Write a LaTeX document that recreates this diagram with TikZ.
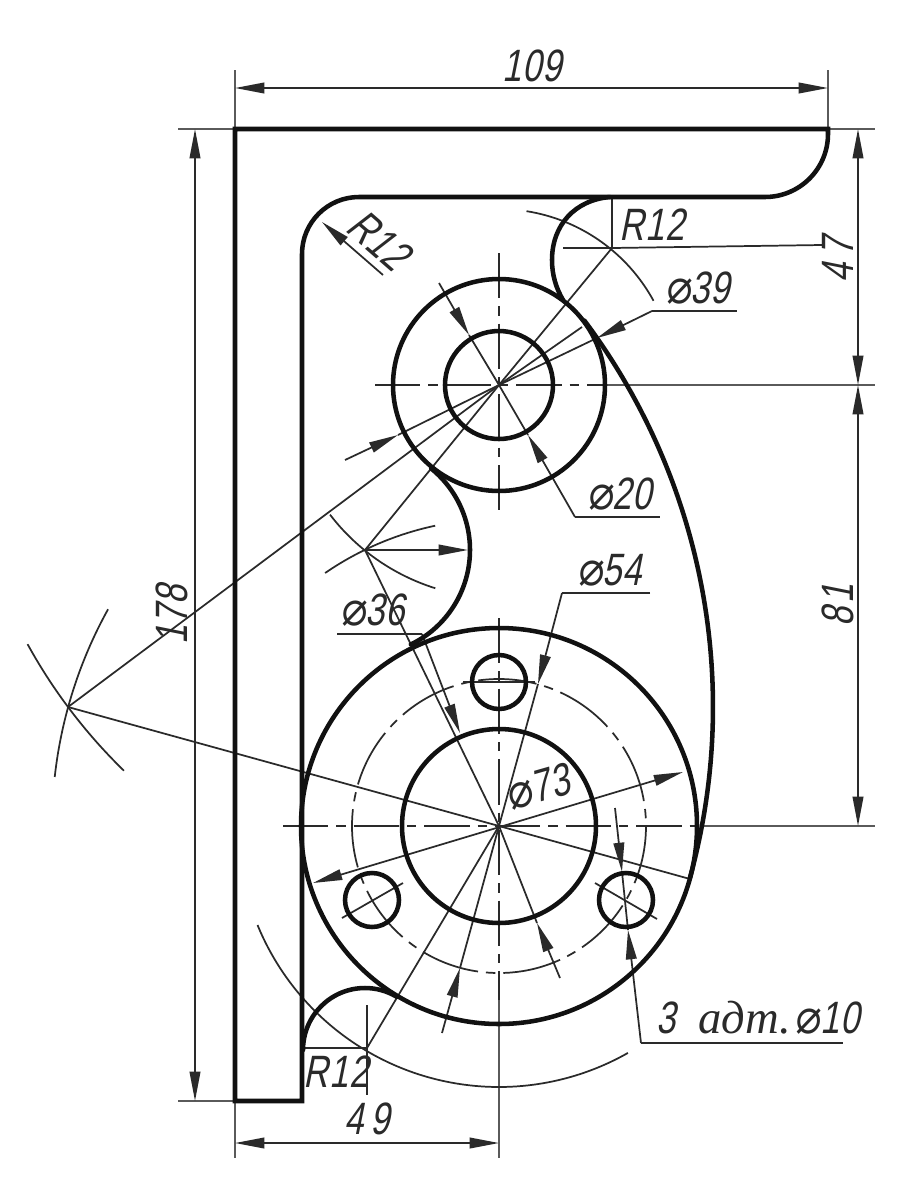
\documentclass[tikz,border=0pt]{standalone}
\usepackage{fontspec}
\usetikzlibrary{arrows.meta}
\newfontfamily\gostfont[FakeStretch=0.76,FakeSlant=0.2,LetterSpace=2]{Liberation Sans}
\newfontfamily\gostdia[FakeStretch=0.9,FakeSlant=0.05]{DejaVu Sans}
\newfontfamily\gostcyr{Liberation Serif}
\newcommand{\dia}{{\gostdia\fontsize{36}{36}\selectfont ⌀}\kern-1pt}
\definecolor{inkc}{HTML}{111111}
\definecolor{thinc}{HTML}{2A2A2A}
\definecolor{extc}{HTML}{5A5A5A}
\tikzset{
  thickline/.style={line width=3.4pt,draw=inkc,line cap=round,line join=miter},
  thinline/.style={line width=1.3pt,draw=thinc},
  extline/.style={line width=1.3pt,draw=extc},
  centerline/.style={line width=1.3pt,draw=thinc,dash pattern=on 34pt off 6pt on 7pt off 6pt},
  dimarrow/.style={line width=1.3pt,draw=thinc,>={Stealth[length=22pt,width=8pt,inset=0pt]}},
  dimtext/.style={font=\gostfont\fontsize{34}{34}\selectfont,text=thinc,inner sep=0pt}
}
\begin{document}
\begin{tikzpicture}[x=0.75pt,y=0.75pt,yscale=-1]
\useasboundingbox (0,0) rectangle (909,1200);
\fill[white] (0,0) rectangle (909,1200);
% key points
\coordinate (C1) at (499,826);
\coordinate (C2) at (499,385);
\coordinate (Ra) at (68,707);
\coordinate (Rb) at (365,550);
\coordinate (Rc) at (612,248);
\coordinate (Rd) at (367,1048);
\coordinate (TL) at (235,129);
\coordinate (TR) at (828,129);
\coordinate (BL) at (235,1101);
\coordinate (H1) at (499,682);
\coordinate (H2) at (372,900);
\coordinate (H3) at (626,900);
% extension lines
\draw[extline] (235,70) -- (TL);
\draw[extline] (828,70) -- (TR);
\draw[extline] (178,129) -- (TL);
\draw[extline] (TR) -- (875,129);
\draw[extline] (178,1101) -- (BL);
\draw[extline] (BL) -- (235,1158);
\draw[extline] (605,385) -- (875,385);
\draw[extline] (700,826) -- (875,826);
\draw[thinline] (563,248) -- (Rc) -- (822,245);
\draw[thinline] (Rc) -- (612,197);
% dimension lines
\draw[dimarrow,<->] (235,88) -- (828,88);
\draw[dimarrow,<->] (195,129) -- (195,1101);
\draw[dimarrow,<->] (858,129) -- (858,385);
\draw[dimarrow,<->] (858,385) -- (858,826);
\draw[dimarrow,<->] (235,1143) -- (499,1143);
% centre lines
\draw[centerline] (375,385) -- (605,385);
\draw[centerline] (499,253) -- (499,518);
\draw[centerline] (283,826) -- (700,826);
\draw[centerline] (499,618) -- (499,1000);
\draw[extline] (499,1000) -- (499,1158);
\draw[thinline,dash pattern=on 44pt off 6pt on 7pt off 6pt] (C1) circle[radius=147];
\draw[thinline] (463,682) -- (535,682);
\draw[thinline] (342,918) -- (403,883);
\draw[thinline] (595,883) -- (657,919);
% construction arcs
\draw[thinline] (C2) ++(151.2:538) arc[start angle=151.2,end angle=134.2,radius=538];
\draw[thinline] (C1) ++(-151:447) arc[start angle=-151,end angle=-173.7,radius=447];
\draw[thinline] (C2) ++(107.4:213) arc[start angle=107.4,end angle=142.5,radius=213];
\draw[thinline] (C1) ++(-102:307) arc[start angle=-102,end angle=-124.5,radius=307];
\draw[thinline] (C2) ++(-81:176) arc[start angle=-81,end angle=-28.6,radius=176];
\draw[thinline] (C1) ++(157.7:261) arc[start angle=157.7,end angle=60.4,radius=261];
% radial construction lines
\draw[thinline] (Ra) -- (C2) -- (582,327);
\draw[thinline] (Ra) -- (C1) -- (690,879);
\draw[thinline] (Rb) -- (C2) -- (Rc);
\draw[thinline] (Rb) -- (C1) -- (Rd);
\draw[thinline] (302,1048) -- (Rd);
\draw[thinline] (367,1005) -- (367,1095);
% R dims
\coordinate (r1a) at (322,222);
\coordinate (r1b) at (383,275);
\draw[dimarrow,<-] (r1a) -- (r1b);
\draw[dimarrow,->] (Rb) -- (468,550);
% phi 39
\coordinate (p39a) at (597,338);
\coordinate (p39b) at (652,311);
\coordinate (p39c) at (737,311);
\coordinate (p39d) at (398,435);
\coordinate (p39e) at (345,460);
\draw[dimarrow,<-] (p39a) -- (p39b);
\draw[thinline] (p39b) -- (p39c);
\draw[thinline] (p39a) -- (C2) -- (p39d);
\draw[dimarrow,<-] (p39d) -- (p39e);
% phi 20
\coordinate (p20a) at (439,283);
\coordinate (p20b) at (469,335);
\coordinate (p20c) at (528,435);
\coordinate (p20d) at (575,517);
\coordinate (p20e) at (660,517);
\draw[dimarrow,->] (p20a) -- (p20b);
\draw[thinline] (p20b) -- (C2) -- (p20c);
\draw[dimarrow,<-] (p20c) -- (p20d);
\draw[thinline] (p20d) -- (p20e);
% phi 54
\coordinate (p54a) at (650,593);
\coordinate (p54b) at (562,593);
\coordinate (p54c) at (538,684);
\coordinate (p54d) at (460,968);
\coordinate (p54e) at (442,1033);
\draw[thinline] (p54a) -- (p54b);
\draw[dimarrow,->] (p54b) -- (p54c);
\draw[thinline] (p54c) -- (C1) -- (p54d);
\draw[dimarrow,<-] (p54d) -- (p54e);
% phi 36
\coordinate (p36a) at (337,634);
\coordinate (p36b) at (422,634);
\coordinate (p36c) at (460,733);
\coordinate (p36d) at (537,923);
\coordinate (p36e) at (560,978);
\draw[thinline] (p36a) -- (p36b);
\draw[dimarrow,->] (p36b) -- (p36c);
\draw[thinline] (C1) -- (p36d);
\draw[dimarrow,<-] (p36d) -- (p36e);
% phi 73
\coordinate (p73a) at (683,772);
\coordinate (p73b) at (313,883);
\draw[dimarrow,<->] (p73b) -- (p73a);
% phi 10
\coordinate (p10a) at (615,808);
\coordinate (p10b) at (622,872);
\coordinate (p10c) at (628,930);
\coordinate (p10d) at (641,1043);
\coordinate (p10e) at (843,1043);
\draw[dimarrow,->] (p10a) -- (p10b);
\draw[thinline] (p10b) -- (p10c);
\draw[dimarrow,<-] (p10c) -- (p10d);
\draw[thinline] (p10d) -- (p10e);
% thick outline
\draw[thickline] (610,197)
  .. controls (575,200) and (552,225) .. (552,260) .. controls (552,275) and (556,288) .. (563,300);
\draw[thickline] (TL) -- (TR) -- (828,134) arc[start angle=0,end angle=90,radius=63] -- (359,197)
  arc[start angle=270,end angle=180,radius=57] -- (302,1101) -- (BL) -- cycle;
\draw[thickline] (C2) circle[radius=106];
\draw[thickline] (C2) circle[radius=54];
\draw[thickline] (C1) circle[radius=198];
\draw[thickline] (C1) circle[radius=97];
\draw[thickline] (H1) circle[radius=27];
\draw[thickline] (H2) circle[radius=27];
\draw[thickline] (H3) circle[radius=27];
\draw[thickline] (Ra) ++(-36.8:645) arc[start angle=-36.8,end angle=15.4,radius=645];
\draw[thickline] (Rb) ++(-50.9:105) arc[start angle=-50.9,end angle=64.1,radius=105];
\draw[thickline] (365,1050) ++(180:62) arc[start angle=180,end angle=300.9,radius=62];
% labels
\node[dimtext] (t109) at (532,66) {109};
\node[dimtext,rotate=90] (t178) at (172,615) {178};
\node[dimtext,rotate=90] (t47) at (838,260) {4\kern5pt 7};
\node[dimtext,rotate=90] (t81) at (838,605) {8\kern3pt 1};
\node[dimtext] (t49) at (367,1119) {4\kern5pt 9};
\node[dimtext,rotate=-41] (tr1) at (379,240) {R12};
\node[dimtext] (tr2) at (652,225) {R12};
\node[dimtext] (tr3) at (336,1072) {R12};
\node[dimtext] (t39) at (698,288) {\dia39};
\node[dimtext] (t20) at (620,494) {\dia20};
\node[dimtext] (t54) at (610,570) {\dia54};
\node[dimtext] (t36) at (373,610) {\dia36};
\node[dimtext,rotate=16] (t73) at (538,787) {\dia73};
\node[dimtext] (t10) at (758,1018) {3\kern17pt{\gostcyr\itshape\fontsize{35}{35}\selectfont адт.}\kern3pt\dia10};
\end{tikzpicture}
\end{document}
